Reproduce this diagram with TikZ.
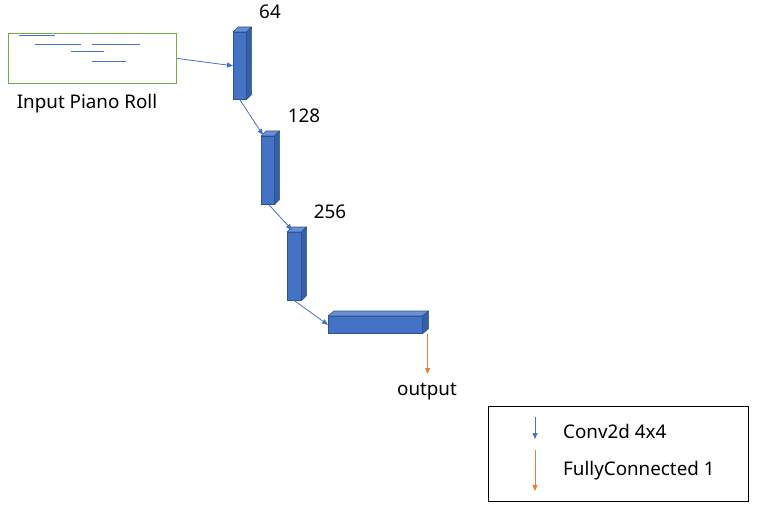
\documentclass[tikz,border=0pt]{standalone}
\usepackage{fontspec}
\setmainfont{Noto Sans}
\usetikzlibrary{arrows.meta}
\definecolor{bfill}{HTML}{4472C4}
\definecolor{bdark}{HTML}{2F528F}
\definecolor{btop}{HTML}{6A8FD3}
\definecolor{bside}{HTML}{3560A8}
\definecolor{ored}{HTML}{ED7D31}
\definecolor{gbox}{HTML}{70AD47}
\newcommand\blockfaces[3]{%
  \filldraw[fill=btop,draw=bdark,line width=0.6pt,line join=round] (#1.north west) -- ++(#2,#3) -- ([shift={(#2,#3)}]#1.north east) -- (#1.north east) -- cycle;
  \filldraw[fill=bside,draw=bdark,line width=0.6pt,line join=round] (#1.north east) -- ([shift={(#2,#3)}]#1.north east) -- ([shift={(#2,#3)}]#1.south east) -- (#1.south east) -- cycle;
}
\tikzset{
  lbl/.style={font=\fontsize{18.8}{22}\selectfont, inner sep=0pt},
  blockbox/.style={draw=bdark, fill=bfill, line width=0.6pt, inner sep=0pt, anchor=north west},
  conv/.style={draw=bfill, line width=0.8pt, -{Triangle[length=6pt,width=5pt]}},
  fc/.style={draw=ored, line width=0.8pt, -{Triangle[length=6pt,width=5pt]}},
  roll/.style={draw=bfill, line width=0.9pt},
}
\begin{document}
\begin{tikzpicture}[x=1pt,y=-1pt]
\useasboundingbox (0,0) rectangle (760,513);
% input piano roll
\node[draw=gbox, line width=0.8pt, minimum width=168pt, minimum height=50pt, inner sep=0pt, anchor=north west] (in) at (8,33) {};
\coordinate (r1a) at (19,35); \coordinate (r1b) at (55,35);
\coordinate (r2a) at (35,44); \coordinate (r2b) at (81,44);
\coordinate (r3a) at (92,44); \coordinate (r3b) at (140,44);
\coordinate (r4a) at (71,51); \coordinate (r4b) at (104,51);
\coordinate (r5a) at (92,61); \coordinate (r5b) at (126,61);
\draw[roll] (r1a) -- (r1b);
\draw[roll] (r2a) -- (r2b);
\draw[roll] (r3a) -- (r3b);
\draw[roll] (r4a) -- (r4b);
\draw[roll] (r5a) -- (r5b);
\node[lbl] (inlbl) at (87,104) {Input Piano Roll};
% blocks
\node[blockbox, minimum width=13pt, minimum height=67pt] (b1) at (233,32) {};
\blockfaces{b1}{5}{-5}
\node[blockbox, minimum width=13pt, minimum height=68pt] (b2) at (261,136) {};
\blockfaces{b2}{5}{-5}
\node[blockbox, minimum width=14pt, minimum height=68pt] (b3) at (287,232) {};
\blockfaces{b3}{5}{-5}
\node[blockbox, minimum width=94pt, minimum height=17pt] (b4) at (328,316) {};
\blockfaces{b4}{6}{-5}
\node[lbl] (l1) at (270,12) {64};
\node[lbl] (l2) at (304,116) {128};
\node[lbl] (l3) at (330,212) {256};
% connectors
\draw[conv] (in.east) -- (b1.west);
\draw[conv] (b1.south) -- ([shift={(2,-1)}]b2.north west);
\draw[conv] ([xshift=1]b2.south) -- ([shift={(5,-2)}]b3.north west);
\draw[conv] (b3.south) -- (b4.west);
\node[lbl] (out) at (427,392) {output};
\coordinate (fcs) at ([xshift=5]b4.south east);
\coordinate (fce) at (fcs |- 0,374);
\draw[fc] (fcs) -- (fce);
% legend
\node[draw=black, line width=0.8pt, minimum width=260pt, minimum height=95pt, inner sep=0pt, anchor=north west] (leg) at (488,406) {};
\coordinate (ca) at (535,417); \coordinate (cb) at (535,439);
\coordinate (fa) at (535,450); \coordinate (fb) at (535,491);
\draw[conv] (ca) -- (cb);
\draw[fc] (fa) -- (fb);
\node[lbl, anchor=west] (t1) at (563,431) {Conv2d 4x4};
\node[lbl, anchor=west] (t2) at (563,471) {FullyConnected 1};
\end{tikzpicture}
\end{document}
